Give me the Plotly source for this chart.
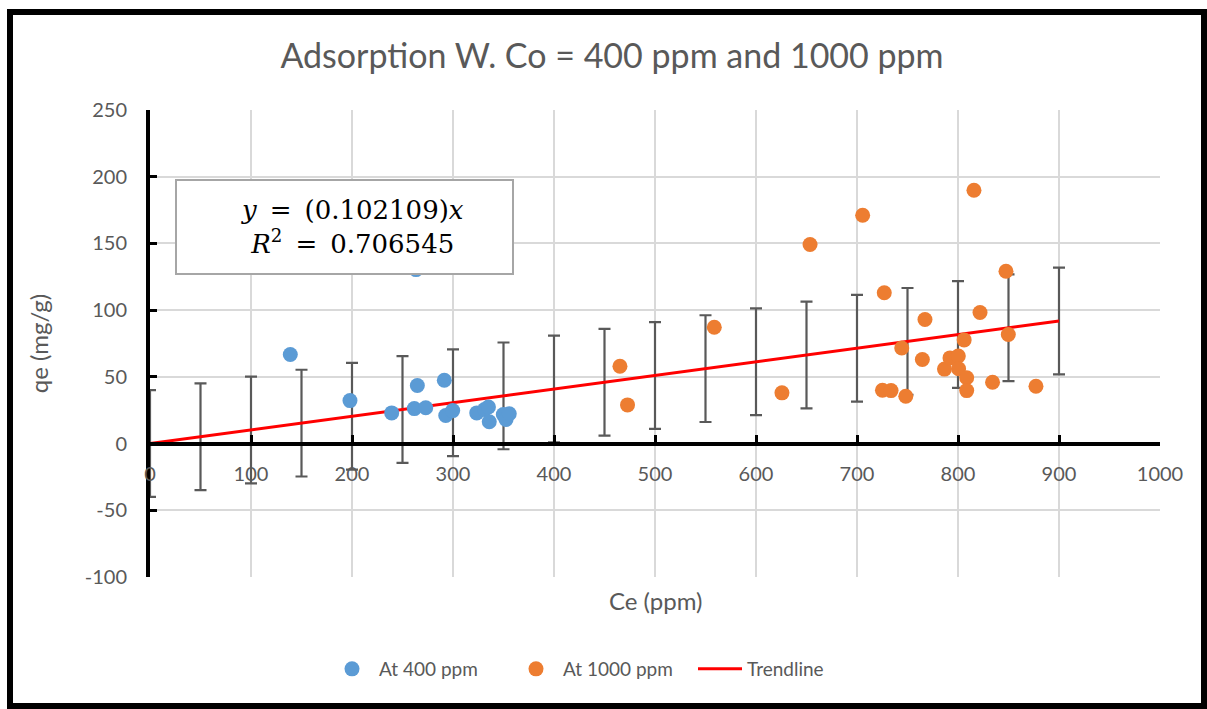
import plotly.graph_objects as go

# ---- data ----
blue_x = [138.9, 198.0, 239.3, 261.7, 264.7, 263.4, 273.0, 291.4, 292.8, 299.7,
          323.5, 331.2, 335.1, 335.9, 349.8, 352.5, 355.7]
blue_y = [66.7, 32.2, 23.0, 26.2, 43.5, 130.4, 26.8, 47.5, 21.0, 24.7,
          23.0, 25.5, 27.4, 16.3, 21.7, 18.0, 22.3]

orange_x = [465.3, 472.8, 558.7, 625.7, 653.5, 705.6, 725.2, 733.7, 727.0, 744.3,
            748.3, 764.7, 767.3, 786.6, 792.1, 800.3, 800.6, 806.1, 808.6, 808.6,
            815.8, 821.8, 834.2, 847.5, 849.8, 877.2]
orange_y = [57.9, 29.0, 87.2, 38.0, 149.2, 171.1, 40.0, 39.7, 113.0, 71.6,
            35.5, 63.0, 93.0, 55.8, 64.2, 65.6, 56.1, 77.7, 49.3, 39.7,
            189.9, 98.2, 46.0, 129.2, 81.7, 43.0]

slope = 0.102109
r_squared = 0.706545
trend_x = [0, 50, 100, 150, 200, 250, 300, 350, 400, 450,
           500, 550, 600, 650, 700, 750, 800, 850, 900]
trend_y = [slope * v for v in trend_x]
trend_err = [40] * len(trend_x)

x_ticks = [0, 100, 200, 300, 400, 500, 600, 700, 800, 900, 1000]
y_ticks = [-100, -50, 0, 50, 100, 150, 200, 250]
y_tick_text = ["-100", "-50", "0", "50", "100", "150", "200", "250"]

title_text = "Adsorption W. Co = 400 ppm and 1000 ppm"
gray = "#595959"
font_family = "Lato"

W, H = 1207, 709
L, R, T, B = 150, 47, 110, 132
pw, ph = W - L - R, H - T - B


def px_x(p):
    return (p - L) / pw


def px_y(p):
    return (H - B - p) / ph


fig = go.Figure()

# error bars on trendline points
fig.add_trace(go.Scatter(
    x=trend_x, y=trend_y, mode="markers",
    marker=dict(size=1, color="rgba(0,0,0,0)"),
    error_y=dict(type="data", array=trend_err, symmetric=True,
                 color=gray, thickness=2.2, width=6),
    showlegend=False, hoverinfo="skip"))

fig.add_trace(go.Scatter(
    x=[0, 900], y=[0, slope * 900], mode="lines", name="Trendline",
    line=dict(color="#ff0000", width=3), legendrank=3))

fig.add_trace(go.Scatter(
    x=blue_x, y=blue_y, mode="markers", name="At 400 ppm",
    marker=dict(size=15, color="#5b9bd5"), legendrank=1))

fig.add_trace(go.Scatter(
    x=orange_x, y=orange_y, mode="markers", name="At 1000 ppm",
    marker=dict(size=15, color="#ed7d31"), legendrank=2))

fig.update_layout(
    width=W, height=H,
    margin=dict(l=L, r=R, t=T, b=B, autoexpand=False),
    paper_bgcolor="white", plot_bgcolor="white",
    font=dict(family=font_family, color=gray, size=20),
    title=dict(text=title_text, x=612 / W, xanchor="center", xref="container",
               y=1 - 56 / H, yanchor="middle",
               font=dict(size=34, color=gray, family=font_family)),
    xaxis=dict(range=[0, 1000], tickvals=x_ticks, showgrid=True,
               gridcolor="#d9d9d9", gridwidth=1.5,
               showline=True, linecolor="black", linewidth=4,
               anchor="free", position=100 / 350,
               ticks="inside", ticklen=7, tickwidth=3, tickcolor="black",
               ticklabelstandoff=11, zeroline=False,
               tickfont=dict(size=20, color=gray)),
    yaxis=dict(range=[-100, 250], tickvals=y_ticks, ticktext=y_tick_text,
               showgrid=True, gridcolor="#d9d9d9", gridwidth=1.5,
               showline=True, linecolor="black", linewidth=4,
               ticks="inside", ticklen=7, tickwidth=3, tickcolor="black",
               ticklabelstandoff=15, zeroline=False, domain=[0, 1],
               title=dict(text="qe (mg/g)", standoff=30,
                          font=dict(size=24, color=gray)),
               tickfont=dict(size=20, color=gray)),
    legend=dict(orientation="h", x=px_x(325), xanchor="left",
                y=px_y(669), yanchor="middle", itemwidth=44,
                entrywidth=125, entrywidthmode="pixels",
                font=dict(size=19, color=gray), bgcolor="rgba(0,0,0,0)"),
    showlegend=True,
)

# x-axis title
fig.add_annotation(text="Ce (ppm)", xref="paper", yref="paper",
                   x=0.5, y=px_y(600), xanchor="center", yanchor="middle",
                   showarrow=False, font=dict(size=24, color=gray))

# equation box
fig.add_shape(type="rect", xref="paper", yref="paper",
              x0=px_x(176), x1=px_x(513), y0=px_y(274), y1=px_y(180),
              fillcolor="white", line=dict(color="#a6a6a6", width=2),
              layer="above")
fig.add_annotation(
    text=f"<i>y</i>\u2002=\u2002(0.{str(slope).split('.')[1]})<i>x</i>"
         f"<br><i>R</i><sup>2</sup>\u2002=\u2002{r_squared}",
    xref="paper", yref="paper", x=px_x(352), y=px_y(227),
    xanchor="center", yanchor="middle", align="center", showarrow=False,
    font=dict(family="DejaVu Serif", size=26, color="black"))

# outer chart border
fig.add_shape(type="rect", xref="paper", yref="paper",
              x0=px_x(10), x1=px_x(1204), y0=px_y(706), y1=px_y(12),
              line=dict(color="black", width=6), fillcolor="rgba(0,0,0,0)",
              layer="above")

fig.write_html("out.html", config={"displayModeBar": False},
               post_script="document.body.style.margin='0';")
